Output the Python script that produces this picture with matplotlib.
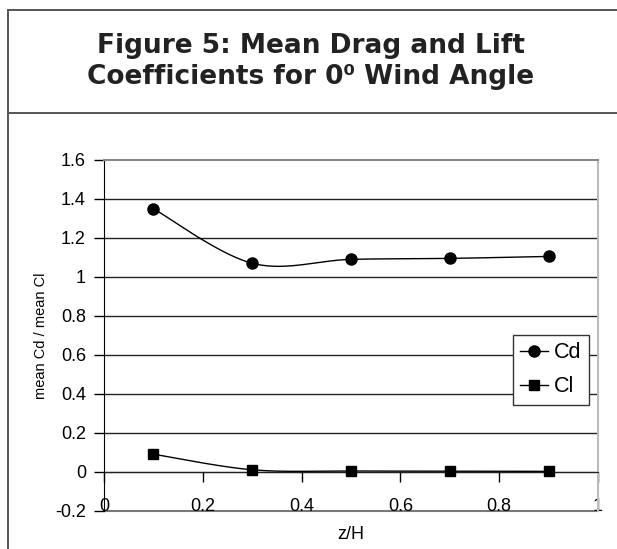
import numpy as np
import matplotlib
matplotlib.use("Agg")
import matplotlib.pyplot as plt
from matplotlib.lines import Line2D

plt.rcParams['font.family'] = ['Liberation Sans', 'DejaVu Sans']

# data
z_h = [0.1, 0.3, 0.5, 0.7, 0.9]
cd = [1.35, 1.07, 1.09, 1.095, 1.105]
cl = [0.09, 0.01, 0.004, 0.003, 0.002]
y_ticks = [-0.2, 0, 0.2, 0.4, 0.6, 0.8, 1, 1.2, 1.4, 1.6]
x_ticks = [0, 0.2, 0.4, 0.6, 0.8, 1]


def tick_text(v):
    s = f"{v:g}"
    return s


def smooth(xs, ys, n=40):
    # excel style smoothed line (bezier through the points)
    p = np.column_stack([xs, ys])
    pts = np.vstack([p[0], p, p[-1]])
    out = []
    t = np.linspace(0, 1, n)[:, None]
    for i in range(1, len(pts) - 2):
        p0, p1, p2, p3 = pts[i - 1], pts[i], pts[i + 1], pts[i + 2]
        c1 = p1 + (p2 - p0) / 6
        c2 = p2 - (p3 - p1) / 6
        seg = ((1 - t) ** 3) * p1 + 3 * ((1 - t) ** 2) * t * c1 + 3 * (1 - t) * t ** 2 * c2 + t ** 3 * p2
        out.append(seg)
    out = np.vstack(out)
    return out[:, 0], out[:, 1]


fig = plt.figure(figsize=(6.17, 5.49), dpi=100)

W, H = 617, 549
# outer frame and title box
frame = dict(color='#555555', lw=1.4, transform=fig.transFigure)
fig.add_artist(Line2D([7.5 / W, 7.5 / W], [0, 1 - 10 / H], **frame))
fig.add_artist(Line2D([7.5 / W, 1], [1 - 10 / H, 1 - 10 / H], **frame))
fig.add_artist(Line2D([7.5 / W, 1], [1 - 113 / H, 1 - 113 / H], **frame))

fig.text(311 / W, 1 - 53 / H, "Figure 5: Mean Drag and Lift", ha='center', va='baseline',
         fontsize=19, fontweight='bold', family='DejaVu Sans', color='#222222')
fig.text(311 / W, 1 - 84 / H, "Coefficients for 0\u2070 Wind Angle", ha='center', va='baseline',
         fontsize=19, fontweight='bold', family='DejaVu Sans', color='#222222')

ax = fig.add_axes([104 / W, (H - 510.7) / H, 494 / W, 350.7 / H])
ax.set_xlim(0, 1)
ax.set_ylim(-0.2, 1.6)

for v in y_ticks[2:-1]:
    ax.axhline(v, color='#222222', lw=1, zorder=1)
ax.axhline(-0.2, color='#777777', lw=1.5, zorder=1, clip_on=False)
ax.axhline(0, color='#222222', lw=1, zorder=1)

ax.spines['left'].set_color('black')
ax.spines['top'].set_color('#888888')
ax.spines['top'].set_linewidth(1.5)
ax.spines['right'].set_color('#bbbbbb')
ax.spines['right'].set_linewidth(1.5)
ax.spines['bottom'].set_position(('data', 0))
ax.spines['bottom'].set_color('#222222')

ax.set_yticks(y_ticks)
ax.set_yticklabels([tick_text(v) for v in y_ticks])
ax.set_xticks(x_ticks)
ax.set_xticklabels([tick_text(v) for v in x_ticks])
ax.tick_params(axis='y', direction='out', length=7, width=1, labelsize=13, pad=6)
ax.tick_params(axis='x', direction='out', length=7, width=1, labelsize=13, pad=12)

sx, sy = smooth(z_h, cd)
ax.plot(sx, sy, color='black', lw=1, zorder=3)
ax.plot(z_h, cd, 'o', color='black', ms=8, zorder=4)
sx, sy = smooth(z_h, cl)
ax.plot(sx, sy, color='black', lw=1, zorder=3)
ax.plot(z_h, cl, 's', color='black', ms=7.5, zorder=4)

ax.set_xlabel("z/H", fontsize=13, labelpad=0)
ax.xaxis.set_label_coords(0.5, -0.045)
ax.set_ylabel("mean Cd / mean Cl", fontsize=10.5)
ax.yaxis.set_label_coords(-0.113, 0.5)

handles = [Line2D([], [], color='black', lw=1, marker='o', ms=8),
           Line2D([], [], color='black', lw=1, marker='s', ms=7.5)]
leg = ax.legend(handles, ["Cd", "Cl"], loc='upper left', bbox_to_anchor=(0.828, 0.501),
                borderaxespad=0, fontsize=15.5, frameon=True, fancybox=False,
                edgecolor='#333333', framealpha=1, handlelength=1.3, handletextpad=0.25,
                borderpad=0.34, labelspacing=0.6)
leg.get_frame().set_linewidth(1)
leg.set_zorder(5)

fig.savefig("out.png", dpi=100)
